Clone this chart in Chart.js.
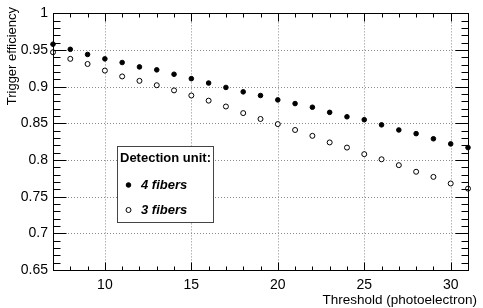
<!DOCTYPE html>
<html>
<head>
<meta charset="utf-8">
<script src="https://cdn.jsdelivr.net/npm/chart.js@4"></script>
<style>
  html, body { margin: 0; padding: 0; background: #fff; }
  #wrap { width: 483px; height: 308px; }
</style>
</head>
<body>
<div id="wrap"><canvas id="graphique"></canvas></div>
<script>
// donnees
const thresholds = [7, 8, 9, 10, 11, 12, 13, 14, 15, 16, 17, 18, 19, 20, 21, 22, 23, 24, 25, 26, 27, 28, 29, 30, 31];
const fourFibers = [0.958, 0.951, 0.944, 0.938, 0.933, 0.927, 0.923, 0.917, 0.911, 0.905, 0.899, 0.893, 0.888,
  0.882, 0.877, 0.872, 0.865, 0.859, 0.855, 0.848, 0.841, 0.836, 0.829, 0.822, 0.817];
const threeFibers = [0.947, 0.938, 0.931, 0.922, 0.914, 0.908, 0.902, 0.895, 0.888, 0.881, 0.873, 0.864, 0.856,
  0.849, 0.841, 0.833, 0.824, 0.817, 0.808, 0.801, 0.793, 0.784, 0.777, 0.768, 0.761];
const seriesLabels = ["4 fibers", "3 fibers"];
const legendTitle = "Detection unit:";
const xTickLabels = [10, 15, 20, 25, 30];
const yTickLabels = [0.65, 0.7, 0.75, 0.8, 0.85, 0.9, 0.95, 1];
const xTitle = "Threshold (photoelectron)";
const yTitle = "Trigger efficiency";

Chart.defaults.font.family = "'Liberation Sans', Arial, sans-serif";
Chart.defaults.color = "#000";

function toPoints(values) {
  return thresholds.map((t, i) => ({ x: t, y: values[i] }));
}

// grille pointillee + cadre + graduations facon ROOT
const rootFrame = {
  id: "rootFrame",
  beforeDatasetsDraw(chart) {
    const { ctx, chartArea: a, scales } = chart;
    ctx.save();
    ctx.strokeStyle = "#8a8a8a";
    ctx.lineWidth = 1;
    ctx.setLineDash([1, 2]);
    for (const v of xTickLabels) {
      const px = Math.round(scales.x.getPixelForValue(v)) + 0.5;
      ctx.beginPath(); ctx.moveTo(px, a.top); ctx.lineTo(px, a.bottom); ctx.stroke();
    }
    for (const v of yTickLabels) {
      const py = Math.round(scales.y.getPixelForValue(v)) + 0.5;
      ctx.beginPath(); ctx.moveTo(a.left, py); ctx.lineTo(a.right, py); ctx.stroke();
    }
    ctx.restore();
  },
  afterDraw(chart) {
    const { ctx, chartArea: a, scales } = chart;
    const L = Math.round(a.left) + 0.5, R = Math.round(a.right) + 0.5;
    const T = Math.round(a.top) + 0.5, B = Math.round(a.bottom) + 0.5;
    ctx.save();
    ctx.strokeStyle = "#000";
    ctx.lineWidth = 1;
    ctx.strokeRect(L, T, R - L, B - T);

    // graduations x (bas et haut), mineures tous les 1
    for (let v = 7; v <= 31; v++) {
      const px = Math.round(scales.x.getPixelForValue(v)) + 0.5;
      const len = v % 5 === 0 ? 8 : 4;
      ctx.beginPath();
      ctx.moveTo(px, B); ctx.lineTo(px, B - len);
      ctx.moveTo(px, T); ctx.lineTo(px, T + len);
      ctx.stroke();
    }
    // graduations y (gauche et droite), mineures tous les 0.01
    for (let k = 65; k <= 100; k++) {
      const py = Math.round(scales.y.getPixelForValue(k / 100)) + 0.5;
      const len = k % 5 === 0 ? 13 : 7;
      ctx.beginPath();
      ctx.moveTo(L, py); ctx.lineTo(L + len, py);
      ctx.moveTo(R, py); ctx.lineTo(R - len, py);
      ctx.stroke();
    }

    // titres des axes
    ctx.fillStyle = "#000";
    ctx.font = "13.5px 'Liberation Sans', Arial, sans-serif";
    ctx.textAlign = "right";
    ctx.textBaseline = "alphabetic";
    ctx.fillText(xTitle, 477, 304);

    ctx.save();
    ctx.translate(12, 7);
    ctx.rotate(-Math.PI / 2);
    ctx.font = "13px 'Liberation Sans', Arial, sans-serif";
    ctx.textAlign = "right";
    ctx.textBaseline = "middle";
    ctx.fillText(yTitle, 0, 0);
    ctx.restore();

    // legende
    const bx = 117.5, by = 146.5, bw = 96, bh = 76;
    ctx.fillStyle = "#fff";
    ctx.fillRect(bx, by, bw, bh);
    ctx.strokeStyle = "#444";
    ctx.strokeRect(bx, by, bw, bh);

    ctx.fillStyle = "#000";
    ctx.textAlign = "left";
    ctx.textBaseline = "middle";
    ctx.font = "bold 13px 'Liberation Sans', Arial, sans-serif";
    ctx.fillText(legendTitle, 120, 158);

    const rows = [185, 210];
    chart.data.datasets.forEach((ds, i) => {
      ctx.beginPath();
      ctx.arc(128.5, rows[i], ds.pointRadius, 0, Math.PI * 2);
      ctx.fillStyle = ds.pointBackgroundColor;
      ctx.fill();
      ctx.strokeStyle = ds.pointBorderColor;
      ctx.lineWidth = ds.pointBorderWidth;
      ctx.stroke();
      ctx.fillStyle = "#000";
      ctx.font = "italic bold 13px 'Liberation Sans', Arial, sans-serif";
      ctx.fillText(ds.label, 141, rows[i]);
    });
    ctx.restore();
  }
};

const data = {
  datasets: [
    {
      label: seriesLabels[0],
      data: toPoints(fourFibers),
      pointRadius: 2.3,
      pointBackgroundColor: "#000",
      pointBorderColor: "#000",
      pointBorderWidth: 1,
      showLine: false,
      clip: false
    },
    {
      label: seriesLabels[1],
      data: toPoints(threeFibers),
      pointRadius: 2.5,
      pointBackgroundColor: "#fff",
      pointBorderColor: "#000",
      pointBorderWidth: 1,
      showLine: false,
      clip: false
    }
  ]
};

const config = {
  type: "scatter",
  data: data,
  options: {
    responsive: true,
    maintainAspectRatio: false,
    animation: false,
    layout: { padding: { left: 0, top: 10, right: 15, bottom: 0 } },
    plugins: { legend: { display: false }, tooltip: { enabled: false } },
    scales: {
      x: {
        type: "linear",
        min: 7,
        max: 31,
        afterBuildTicks: (scale) => { scale.ticks = xTickLabels.map((v) => ({ value: v })); },
        afterFit: (scale) => { scale.height = 38; },
        grid: { display: false, drawTicks: false },
        border: { display: false },
        ticks: { font: { size: 14 }, padding: 7, maxRotation: 0, callback: (v) => String(v) }
      },
      y: {
        type: "linear",
        min: 0.65,
        max: 1,
        afterBuildTicks: (scale) => { scale.ticks = yTickLabels.map((v) => ({ value: v })); },
        afterFit: (scale) => { scale.width = 53; },
        grid: { display: false, drawTicks: false },
        border: { display: false },
        ticks: { font: { size: 14 }, padding: 5, callback: (v) => String(Number(v.toFixed(2))) }
      }
    }
  },
  plugins: [rootFrame]
};

new Chart(document.querySelector("#graphique"), config);
</script>
</body>
</html>
